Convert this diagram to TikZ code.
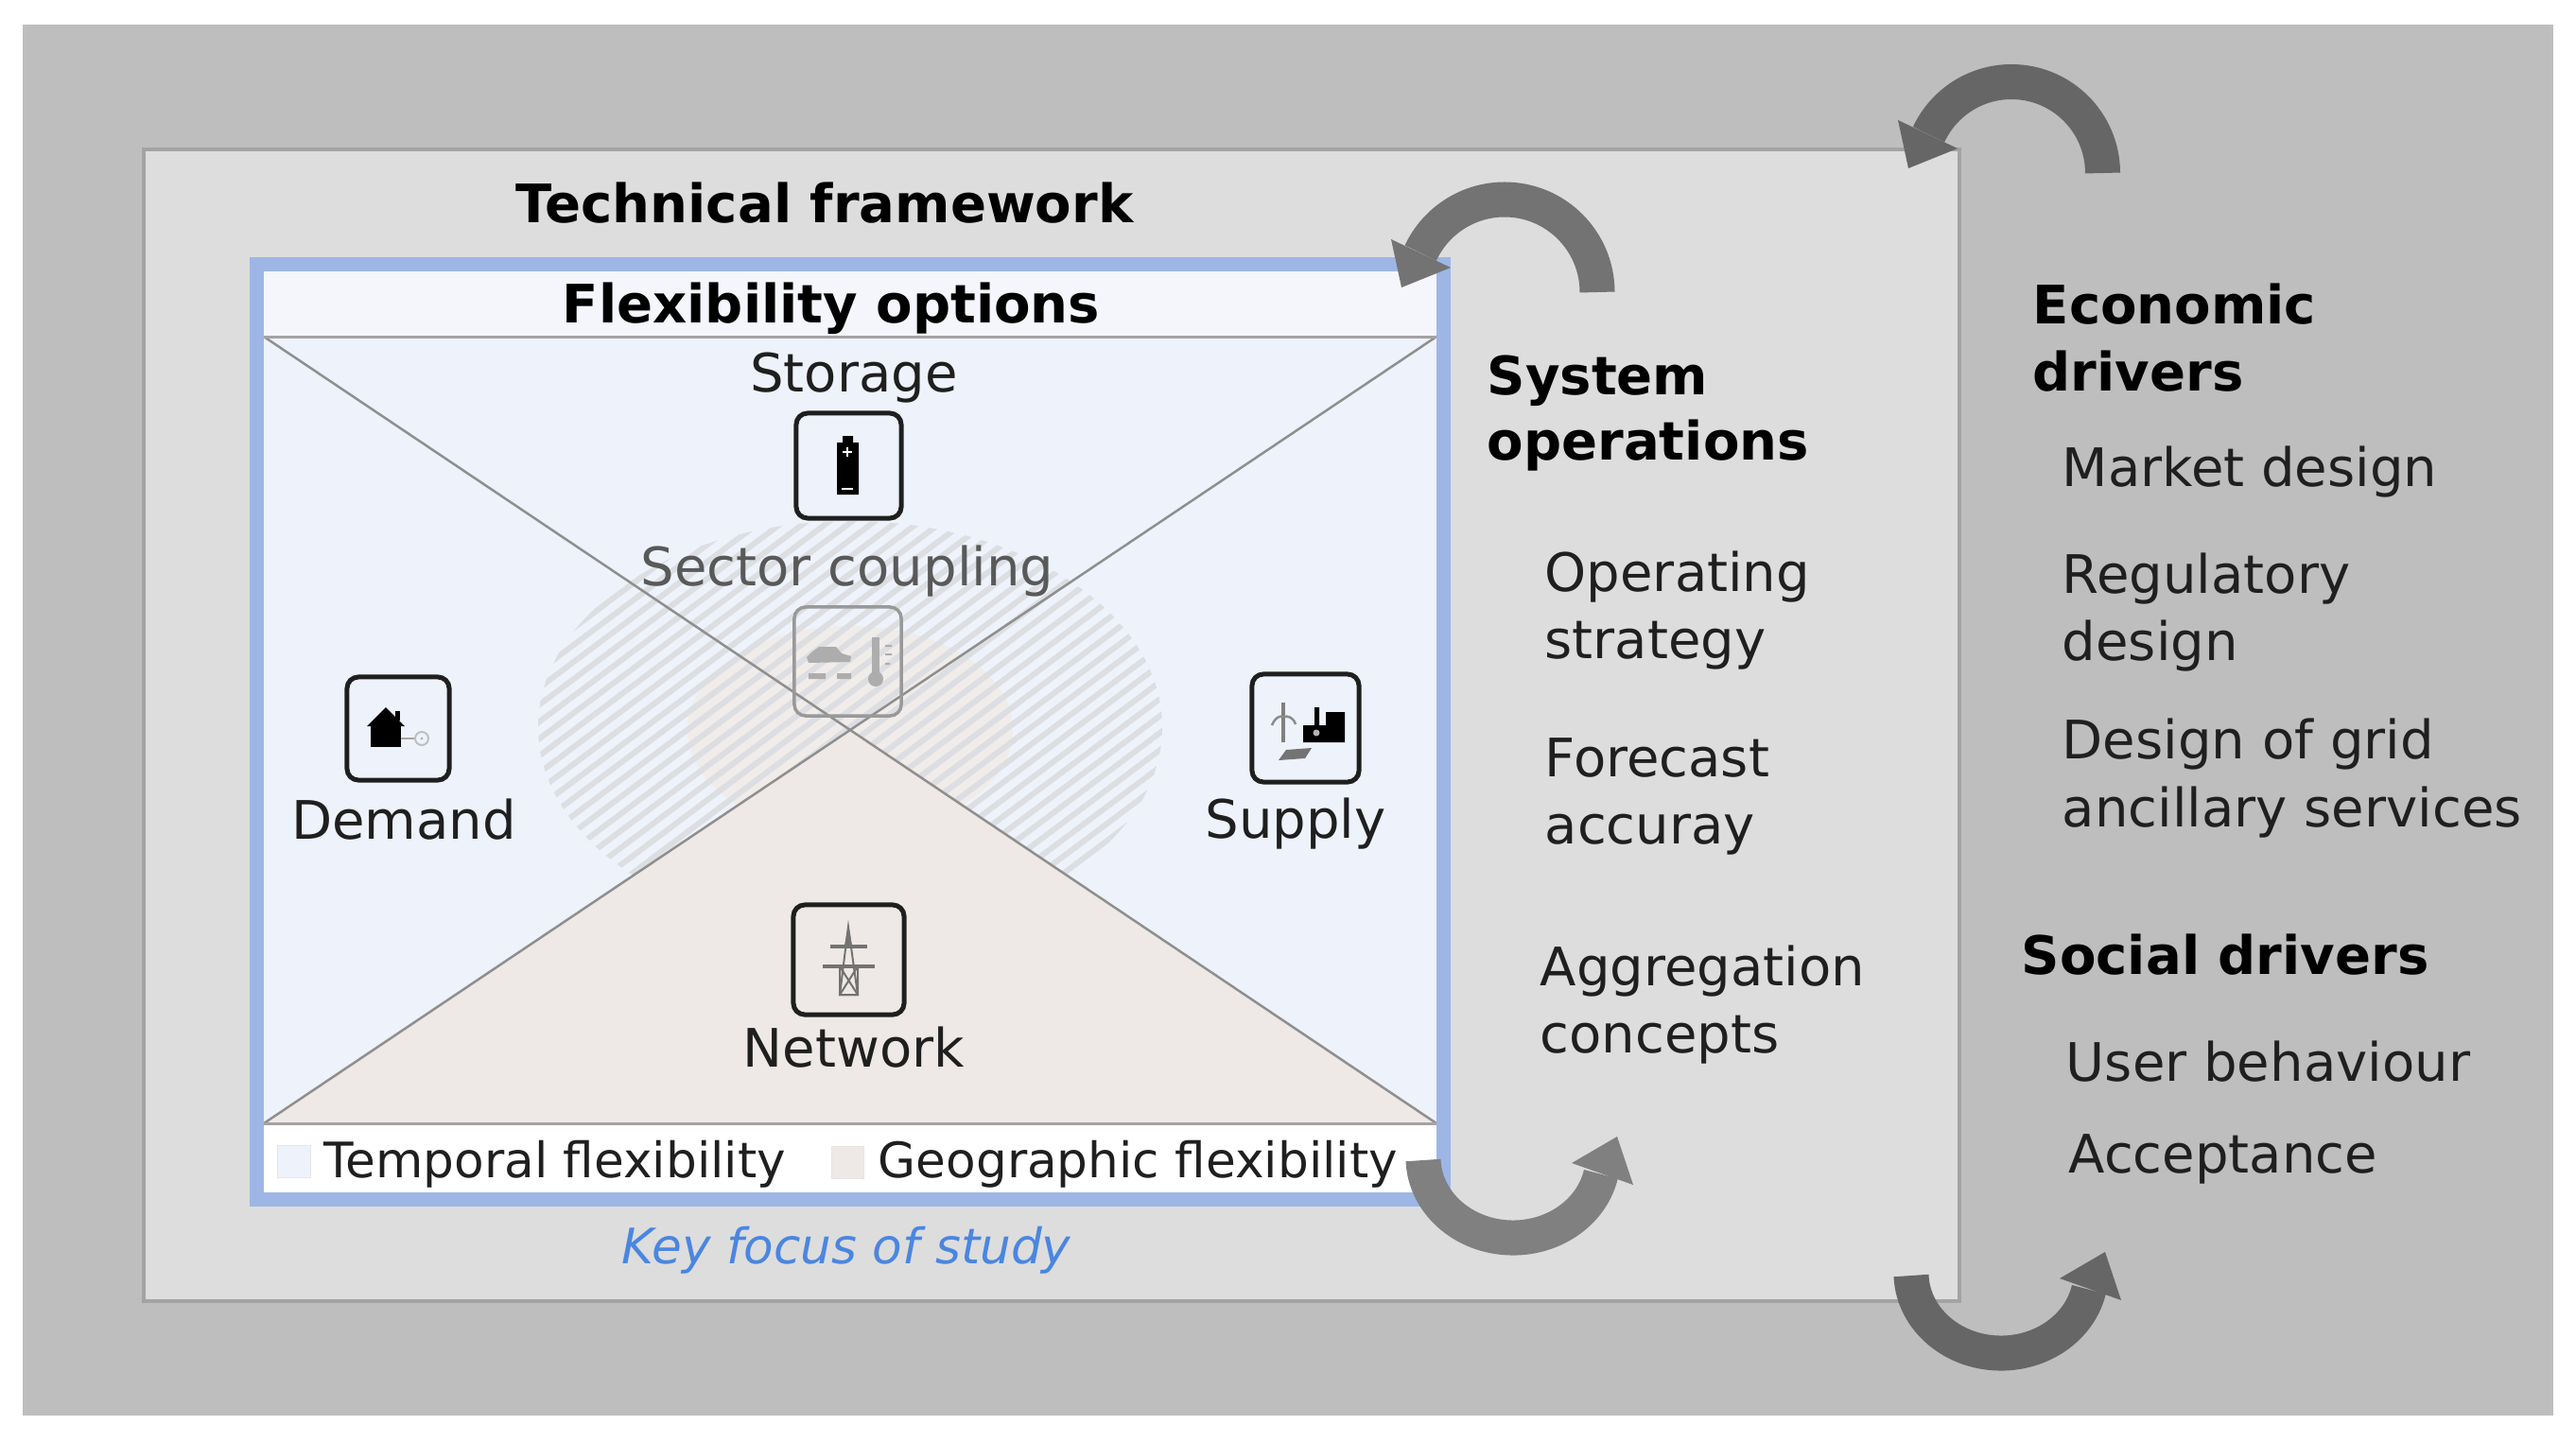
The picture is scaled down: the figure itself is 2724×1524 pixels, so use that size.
\documentclass[tikz,border=0pt]{standalone}
\usepackage{fontspec}
\setmainfont{DejaVu Sans}
\definecolor{outerfill}{HTML}{BEBEBE}
\definecolor{techfill}{HTML}{DDDDDD}
\definecolor{techline}{HTML}{A3A3A3}
\definecolor{optblue}{HTML}{9DB6E6}
\definecolor{panelblue}{HTML}{EEF2FB}
\definecolor{titlefill}{HTML}{F4F6FC}
\definecolor{netfill}{HTML}{EEE9E6}
\definecolor{keyblue}{HTML}{4A86E0}
\definecolor{hatch}{HTML}{DCDEE2}
\definecolor{pinkish}{HTML}{F0ECE9}
\newcommand{\bodysize}{\fontsize{15.95}{18}\selectfont}
\newcommand{\legsize}{\fontsize{14.7}{18}\selectfont}
\tikzset{
  lbl/.style={inner sep=0pt,font=\bodysize,text=black!88},
  lftlbl/.style={lbl,anchor=mid west,yshift=-.1cm},
  hdr/.style={inner sep=0pt,font=\bodysize\bfseries,text=black},
  lfthdr/.style={hdr,anchor=mid west,yshift=-.1cm},
  iconbox/.style={draw=black!88,line width=.05cm,rounded corners=.12cm,inner sep=0pt,fill=none},
  band/.style={line width=.37cm},
}
\begin{document}
\begin{tikzpicture}[x=.01cm,y=-.01cm]
\useasboundingbox (0,0) rectangle (2724,1524);
\fill[white] (0,0) rectangle (2724,1524);
\fill[outerfill] (24,26) rectangle (2700,1497);
% technical framework
\node[draw=techline,fill=techfill,line width=.04cm,inner sep=0pt,minimum width=19.18cm,minimum height=12.18cm] (tech) at (1112,767) {};
% flexibility panel
\fill[panelblue] (272,280) rectangle (1526,1268);
\fill[titlefill] (272,280) rectangle (1526,356);
\fill[white] (272,1188) rectangle (1526,1268);
\coordinate (tl) at (279,356);
\coordinate (tr) at (1519,356);
\coordinate (bl) at (279,1188);
\coordinate (br) at (1519,1188);
\coordinate (mid) at (899,772);
% hatched ellipses
\begin{scope}
\clip (899,769) ellipse [x radius=330,y radius=218];
\fill[pinkish] (899,772) ellipse [x radius=172,y radius=110];
\foreach \k in {600,618,...,1600}{
  \draw[hatch,line width=.06cm] (500,\k) -- (1300,\k-600);
}
\end{scope}
\fill[netfill] (bl) -- (mid) -- (br) -- cycle;
\draw[black!44,line width=.025cm] (tl) -- (br) (tr) -- (bl);
\draw[black!36,line width=.03cm] (tl) -- (tr) (bl) -- (br);
\node[draw=optblue,line width=.15cm,inner sep=0pt,minimum width=12.54cm,minimum height=9.88cm] (flex) at (899,774) {};
% titles
\node[hdr] (techt) at (872,215) {Technical framework};
\node[hdr] (flext) at (879,326) {Flexibility options};
% options
\node[lbl] (stor) at (903,400) {Storage};
\node[iconbox,minimum width=1.11cm,minimum height=1.11cm] (storbox) at (897.5,492.5) {};
\fill[black] (885,468) rectangle (908,523) (891,461) rectangle (902,468);
\draw[white,line width=.012cm] (891,478) -- (901,478) (896,473) -- (896,483) (890,517) -- (902,517);
\node[lbl,text=black!65] (sect) at (896,604) {Sector coupling};
\node[iconbox,draw=black!40,line width=.035cm,minimum width=1.13cm,minimum height=1.15cm] (sectbox) at (896.5,699.5) {};
\begin{scope}[fill=black!32]
\fill (853,695) -- (858,690) -- (866,684) -- (884,684) -- (890,691) -- (900,694) -- (899,700) -- (855,701) -- cycle;
\fill (855,712) rectangle (873,718) (885,712) rectangle (900,718);
\fill (922,674) rectangle (930,712);
\fill (926,718) circle [radius=8];
\fill (936,682) rectangle (943,684) (936,691) rectangle (943,693) (936,701) rectangle (941,703);
\end{scope}
\node[iconbox,minimum width=1.08cm,minimum height=1.09cm] (dembox) at (421,770.5) {};
\node[lbl] (dem) at (427,867) {Demand};
\fill[black] (392,768) rectangle (424,790);
\fill[black] (388,768) -- (408,748) -- (428,768) -- cycle;
\fill[black] (418,752) rectangle (423,762);
\draw[black!35,line width=.025cm] (424,781) -- (438,781);
\draw[black!25,line width=.02cm] (446,781) circle [radius=7];
\fill[black!30] (446,781) circle [radius=1.6];
\node[iconbox,minimum width=1.13cm,minimum height=1.14cm] (supbox) at (1380.5,770) {};
\node[lbl] (sup) at (1370,871) {Supply};
\draw[black!50,line width=.04cm] (1357,743) -- (1357,785);
\draw[black!45,line width=.025cm] (1345,767) .. controls (1349,758) and (1353,757) .. (1357,758) .. controls (1362,757) and (1367,758) .. (1370,766);
\fill[black] (1378,767) rectangle (1422,785) (1402,753) rectangle (1422,767) (1390,748) rectangle (1395,767);
\fill[white!70!black] (1392,775) circle [radius=3.5];
\fill[black!55] (1352,804) -- (1360,793) -- (1387,791) -- (1380,802) -- cycle;
\node[iconbox,minimum width=1.17cm,minimum height=1.16cm] (netbox) at (897.5,1015) {};
\node[lbl] (net) at (903,1108) {Network};
\begin{scope}[black!55]
\draw[line width=.02cm] (897,980) -- (888,1052) -- (907,1052) -- cycle;
\draw[line width=.02cm] (888,1022) rectangle (907,1052) (888,1022) -- (907,1052) (907,1022) -- (888,1052);
\draw[line width=.035cm] (878,1001) -- (917,1001);
\draw[line width=.035cm] (870,1022) -- (925,1022);
\fill (897,978) -- (893,1000) -- (901,1000) -- cycle;
\end{scope}
% legend
\node[draw=black!10,fill=panelblue,line width=.01cm,inner sep=0pt,minimum width=.34cm,minimum height=.34cm] (tempsq) at (311,1228) {};
\node[lftlbl,font=\legsize] (temp) at (342,1226) {Temporal flexibility};
\node[draw=black!10,fill=netfill,line width=.01cm,inner sep=0pt,minimum width=.34cm,minimum height=.34cm] (geosq) at (896,1229) {};
\node[lftlbl,font=\legsize] (geo) at (928,1226) {Geographic flexibility};
\node[inner sep=0pt,font=\legsize\itshape,text=keyblue] (key) at (895,1322) {Key focus of study};
% system operations
\node[lfthdr] (sys1) at (1572,398) {System};
\node[lfthdr] (sys2) at (1572,467) {operations};
\node[lftlbl] (op1) at (1633,606) {Operating};
\node[lftlbl] (op2) at (1633,677) {strategy};
\node[lftlbl] (fc1) at (1633,802) {Forecast};
\node[lftlbl] (fc2) at (1633,873) {accuray};
\node[lftlbl] (ag1) at (1628,1023) {Aggregation};
\node[lftlbl] (ag2) at (1628,1094) {concepts};
% drivers
\node[lfthdr] (ec1) at (2149,323) {Economic};
\node[lfthdr] (ec2) at (2149,394) {drivers};
\node[lftlbl] (md) at (2180,495) {Market design};
\node[lftlbl] (rg1) at (2180,608) {Regulatory};
\node[lftlbl] (rg2) at (2180,679) {design};
\node[lftlbl] (dg1) at (2180,783) {Design of grid};
\node[lftlbl] (dg2) at (2180,855) {ancillary services};
\node[lfthdr] (soc) at (2137,1011) {Social drivers};
\node[lftlbl] (ub) at (2184,1124) {User behaviour};
\node[lftlbl] (acc) at (2187,1221) {Acceptance};
% cycle arrows
\begin{scope}[shift={(2127,183)}]
\draw[band,color=black!60] (96.5,0) arc[start angle=0,end angle=-155,radius=96.5];
\fill[black!60] (-109,-5) -- (-120,-56) -- (-57,-26) -- cycle;
\end{scope}
\begin{scope}[shift={(1591,309)}]
\draw[band,color=black!55] (98,0) arc[start angle=0,end angle=-155,radius=98];
\fill[black!55] (-109,-5) -- (-120,-56) -- (-57,-26) -- cycle;
\end{scope}
\begin{scope}[shift={(1600,1223)}]
\draw[band,color=black!50] (-95,4) arc[start angle=178,end angle=12,x radius=95,y radius=85];
\fill[black!50] (110,-21) -- (62,7) -- (127,30) -- cycle;
\end{scope}
\begin{scope}[shift={(2116,1345)}]
\draw[band,color=black!60] (-95,4) arc[start angle=178,end angle=12,x radius=95,y radius=85];
\fill[black!60] (110,-21) -- (62,7) -- (127,30) -- cycle;
\end{scope}
\end{tikzpicture}
\end{document}
